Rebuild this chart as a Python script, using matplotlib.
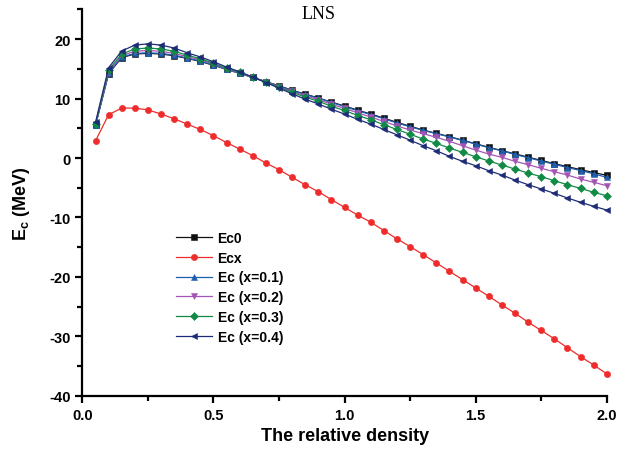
import matplotlib
matplotlib.use('Agg')
import matplotlib.pyplot as plt
import numpy as np
from matplotlib.ticker import MultipleLocator

plt.rcParams['font.family'] = ['Liberation Sans', 'DejaVu Sans']
plt.rcParams['mathtext.fontset'] = 'custom'
plt.rcParams['mathtext.rm'] = 'Liberation Sans:bold'
plt.rcParams['mathtext.bf'] = 'Liberation Sans:bold'
plt.rcParams['axes.unicode_minus'] = False

# relative density grid (0.05 ... 2.0)
density = [0.05, 0.10, 0.15, 0.20, 0.25, 0.30, 0.35, 0.40, 0.45, 0.50,
           0.55, 0.60, 0.65, 0.70, 0.75, 0.80, 0.85, 0.90, 0.95, 1.00,
           1.05, 1.10, 1.15, 1.20, 1.25, 1.30, 1.35, 1.40, 1.45, 1.50,
           1.55, 1.60, 1.65, 1.70, 1.75, 1.80, 1.85, 1.90, 1.95, 2.00]

ec0 = [5.5, 14.2, 16.9, 17.5, 17.6, 17.5, 17.2, 16.75, 16.25, 15.6,
       14.9, 14.25, 13.55, 12.85, 12.15, 11.4, 10.75, 10.1, 9.4, 8.75,
       8.05, 7.4, 6.7, 6.0, 5.35, 4.7, 4.15, 3.6, 3.0, 2.4,
       1.8, 1.25, 0.7, 0.15, -0.4, -0.95, -1.45, -1.95, -2.45, -2.9]

ecx = [2.9, 7.3, 8.4, 8.4, 8.1, 7.4, 6.6, 5.7, 4.8, 3.75,
       2.6, 1.5, 0.4, -0.84, -1.96, -3.25, -4.5, -5.66, -7.0, -8.3,
       -9.6, -10.8, -12.2, -13.6, -14.9, -16.25, -17.65, -19.05, -20.45, -21.85,
       -23.25, -24.7, -26.1, -27.6, -29.0, -30.4, -31.9, -33.4, -34.8, -36.3]

ec_x01 = [5.55, 14.25, 17.0, 17.6, 17.7, 17.6, 17.3, 16.8, 16.3, 15.65,
          14.9, 14.25, 13.55, 12.85, 12.1, 11.35, 10.7, 10.05, 9.35, 8.65,
          7.95, 7.3, 6.6, 5.9, 5.25, 4.65, 4.1, 3.55, 2.95, 2.35,
          1.75, 1.2, 0.6, 0.05, -0.5, -1.05, -1.6, -2.1, -2.65, -3.25]

ec_x02 = [5.65, 14.5, 17.25, 17.95, 18.1, 17.95, 17.6, 17.05, 16.5, 15.8,
          15.0, 14.3, 13.55, 12.8, 12.0, 11.2, 10.5, 9.8, 9.05, 8.35,
          7.6, 6.9, 6.15, 5.4, 4.7, 4.1, 3.48, 2.81, 2.07, 1.34,
          0.67, 0.12, -0.55, -1.12, -1.73, -2.3, -2.86, -3.53, -4.08, -4.65]

ec_x03 = [5.8, 14.8, 17.5, 18.35, 18.5, 18.35, 17.95, 17.3, 16.7, 15.95,
          15.1, 14.4, 13.6, 12.75, 11.9, 11.05, 10.25, 9.55, 8.7, 8.0,
          7.15, 6.45, 5.6, 4.8, 4.0, 3.19, 2.47, 1.68, 0.96, 0.22,
          -0.5, -1.18, -1.85, -2.52, -3.14, -3.81, -4.49, -5.1, -5.76, -6.34]

ec_x04 = [6.0, 15.2, 18.0, 19.0, 19.2, 19.0, 18.5, 17.7, 17.0, 16.2,
          15.3, 14.5, 13.6, 12.7, 11.75, 10.8, 9.9, 9.1, 8.2, 7.4,
          6.5, 5.7, 4.8, 3.9, 3.0, 2.07, 1.23, 0.28, -0.55, -1.29,
          -2.13, -2.86, -3.7, -4.48, -5.2, -5.93, -6.72, -7.44, -8.12, -8.74]

series = [
    ('Ecx', ecx, '#ee2c2c', 'o', 4.5),
    ('Ec0', ec0, '#111111', 's', 4.0),
    ('Ec (x=0.1)', ec_x01, '#1f5fb0', '^', 5.0),
    ('Ec (x=0.2)', ec_x02, '#a455b4', 'v', 5.0),
    ('Ec (x=0.3)', ec_x03, '#118a45', 'D', 4.0),
    ('Ec (x=0.4)', ec_x04, '#1e2c78', '<', 5.0),
]
legend_order = ['Ec0', 'Ecx', 'Ec (x=0.1)', 'Ec (x=0.2)', 'Ec (x=0.3)', 'Ec (x=0.4)']

fig = plt.figure(figsize=(6.34, 4.52), dpi=100)
ax = fig.add_axes([0.130, 0.122, 0.827, 0.855])

handles = {}
for name, vals, col, mk, ms in series:
    h, = ax.plot(density, vals, color=col, marker=mk, markersize=ms,
                 linewidth=0.9, markeredgewidth=0.4, markeredgecolor=col,
                 label=name, clip_on=False)
    handles[name] = h

ax.set_xlim(0, 2.0)
ax.set_ylim(-40, 25)
ax.xaxis.set_major_locator(MultipleLocator(0.5))
ax.xaxis.set_minor_locator(MultipleLocator(0.25))
ax.yaxis.set_major_locator(MultipleLocator(10))
ax.yaxis.set_minor_locator(MultipleLocator(5))
ax.xaxis.set_major_formatter(plt.FormatStrFormatter('%.1f'))

ax.spines['top'].set_visible(False)
ax.spines['right'].set_visible(False)
ax.spines['left'].set_linewidth(1.6)
ax.spines['bottom'].set_linewidth(1.6)
ax.tick_params(which='major', direction='out', length=5, width=1.6,
               labelsize=10.5)
ax.tick_params(which='minor', direction='out', length=3.5, width=1.6)
for lbl in ax.get_xticklabels() + ax.get_yticklabels():
    lbl.set_fontweight('bold')

ax.set_xlabel('The relative density', fontsize=13, fontweight='bold',
              labelpad=4)
ax.set_ylabel('E$_\\mathrm{c}$ (MeV)', fontsize=13, fontweight='bold',
              labelpad=12)

ax.text(0.9, 24.3, 'LNS', fontsize=13, family='Liberation Serif',
        ha='center', va='center')

ax.legend([handles[n] for n in legend_order], legend_order,
          loc='upper left', bbox_to_anchor=(0.165, 0.445), frameon=False,
          prop={'weight': 'bold', 'size': 10}, handlelength=2.6,
          handletextpad=0.4, labelspacing=0.42, borderpad=0)

fig.savefig('out.png', dpi=100)
